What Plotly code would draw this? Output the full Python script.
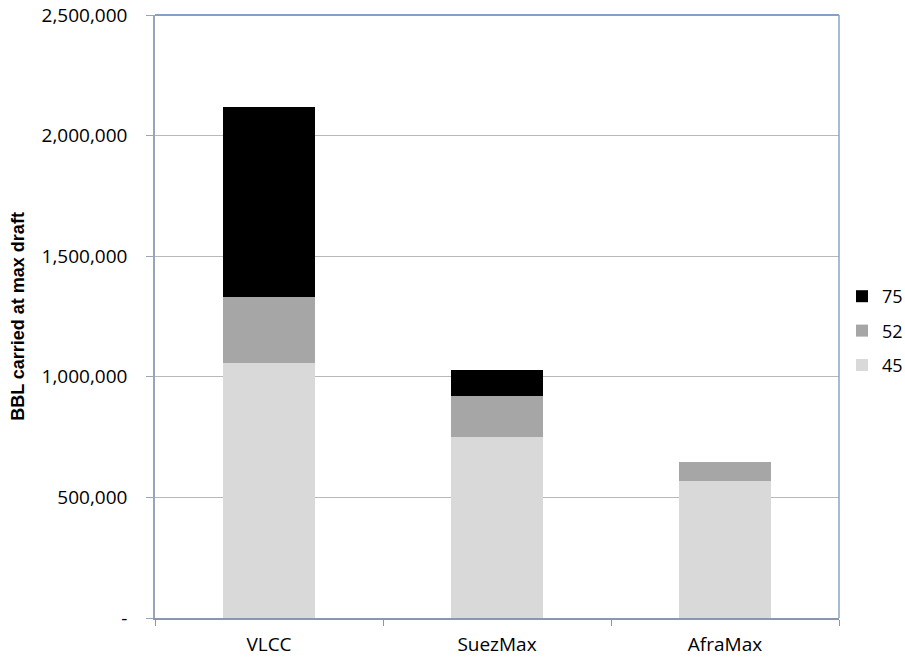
import plotly.graph_objects as go

categories = ["VLCC", "SuezMax", "AfraMax"]
series_names = ["45", "52", "75"]
values_45 = [1058000, 750000, 568000]
values_52 = [272000, 169000, 80000]
values_75 = [790000, 110000, 0]
colors = ["#d9d9d9", "#a6a6a6", "#000000"]

y_tickvals = [0, 500000, 1000000, 1500000, 2000000, 2500000]
y_ticktext = ["-", "500,000", "1,000,000", "1,500,000", "2,000,000", "2,500,000"]

fig = go.Figure()
for i, (name, vals, col) in enumerate(zip(series_names, [values_45, values_52, values_75], colors)):
    fig.add_trace(go.Bar(x=categories, y=vals, name=name, legendgroup=name,
                         legendrank=1000 - i,
                         marker=dict(color=col, line=dict(width=0))))

font_main = "Open Sans"
fig.update_layout(
    width=905, height=658,
    barmode="stack", bargap=0.60,
    margin=dict(l=155, r=66, t=15, b=40, autoexpand=False),
    paper_bgcolor="white", plot_bgcolor="white",
    font=dict(family=font_main, size=19, color="#000000"),
    showlegend=True,
    legend=dict(traceorder="grouped", xref="container", yref="container",
                x=842 / 905, y=1 - 331 / 658, xanchor="left", yanchor="middle",
                font=dict(family=font_main, size=18), itemwidth=30,
                tracegroupgap=8, bgcolor="rgba(0,0,0,0)"),
    xaxis=dict(showgrid=False, showline=True, linecolor="#8a98ad", linewidth=1.5,
               ticks="outside", ticklen=6, tickcolor="#8a98ad",
               tickson="boundaries", tickfont=dict(family=font_main, size=19),
               ticklabelstandoff=8, automargin=False),
    yaxis=dict(range=[0, 2500000], tickvals=y_tickvals, ticktext=y_ticktext,
               showgrid=True, gridcolor="#b8b8b8", gridwidth=1,
               showline=True, linecolor="#98a4b8", linewidth=1.5,
               ticks="outside", ticklen=7, tickcolor="#98a4b8",
               tickfont=dict(family=font_main, size=19),
               ticklabelstandoff=15, zeroline=False, automargin=False,
               title=dict(text="<b>BBL carried at max draft</b>",
                          font=dict(family="Liberation Sans", size=18),
                          standoff=12)),
    shapes=[
        dict(type="line", xref="paper", yref="paper", x0=0, x1=1, y0=1, y1=1,
             line=dict(color="#5b80b5", width=1.5)),
        dict(type="line", xref="paper", yref="paper", x0=1, x1=1, y0=0, y1=1,
             line=dict(color="#8aa3c9", width=1.5)),
    ],
)

fig.write_html("out.html")
